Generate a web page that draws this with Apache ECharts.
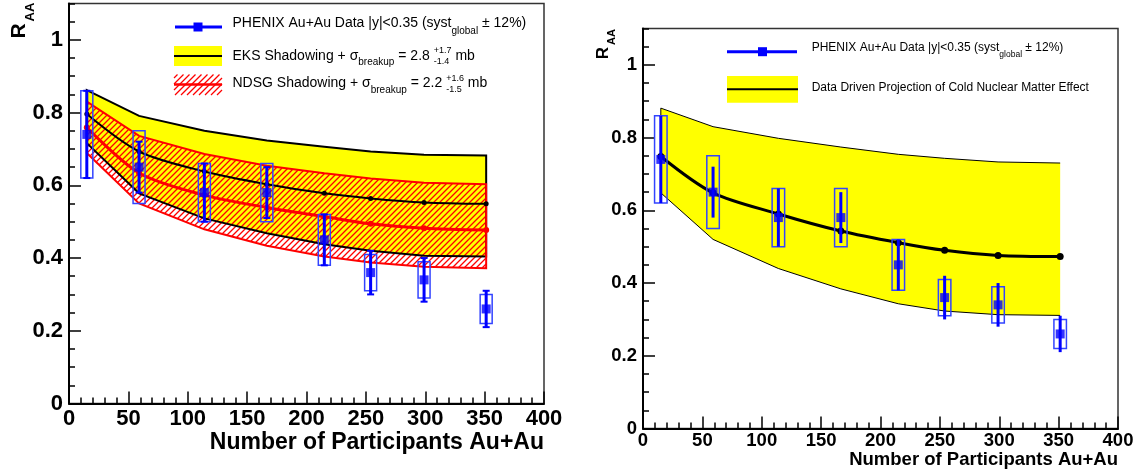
<!DOCTYPE html>
<html><head><meta charset="utf-8">
<script src="https://cdn.jsdelivr.net/npm/echarts@6/dist/echarts.min.js"></script>
<style>html,body{margin:0;padding:0;background:#fff}#c{width:1134px;height:474px}</style>
</head><body><div id="c"></div>
<script>
// ---------- data ----------
const npart   = [15, 59, 114, 166.6, 215, 254, 299, 351.3];
const raa     = [0.74, 0.65, 0.58, 0.58, 0.45, 0.36, 0.34, 0.26];
const statErr = [0.12, 0.07, 0.08, 0.07, 0.07, 0.06, 0.06, 0.05];
const systErr = [0.12, 0.10, 0.08, 0.08, 0.07, 0.05, 0.05, 0.04];
// left panel: EKS and NDSG shadowing bands
const eksUp   = [0.862, 0.791, 0.750, 0.723, 0.706, 0.693, 0.684, 0.682];
const eksMid  = [0.796, 0.693, 0.638, 0.603, 0.578, 0.564, 0.553, 0.549];
const eksLow  = [0.716, 0.578, 0.509, 0.468, 0.438, 0.420, 0.406, 0.404];
const ndsgUp  = [0.830, 0.736, 0.686, 0.654, 0.633, 0.619, 0.607, 0.603];
const ndsgMid = [0.759, 0.634, 0.573, 0.539, 0.514, 0.494, 0.482, 0.477];
const ndsgLow = [0.689, 0.550, 0.479, 0.434, 0.404, 0.388, 0.376, 0.372];
// right panel: data driven projection band
const cnmUp   = [0.881, 0.830, 0.798, 0.774, 0.754, 0.743, 0.733, 0.730];
const cnmMid  = [0.748, 0.648, 0.590, 0.543, 0.511, 0.490, 0.476, 0.473];
const cnmLow  = [0.648, 0.520, 0.440, 0.384, 0.343, 0.323, 0.313, 0.311];
// texts
const xTitle = 'Number of Participants Au+Au';
const legPhenix = ['PHENIX Au+Au Data |y|<0.35 (syst', 'global', ' \u00b1 12%)'];
const legEKS  = ['EKS Shadowing + \u03c3', 'breakup', ' = 2.8 ', '+1.7', '-1.4', ' mb'];
const legNDSG = ['NDSG Shadowing + \u03c3', 'breakup', ' = 2.2 ', '+1.6', '-1.5', ' mb'];
const legCNM  = 'Data Driven Projection of Cold Nuclear Matter Effect';

// ---------- helpers ----------
const FONT = '"Liberation Sans", Arial, Helvetica, sans-serif';
const BLUE = '#0000ff', RED = '#ff0000', YEL = '#ffff00';
const HATCH_STEP = 6;
const mctx = document.createElement('canvas').getContext('2d');
function meas(t, fs, bold) { mctx.font = (bold ? 'bold ' : '') + fs + 'px ' + FONT; return mctx.measureText(t).width; }
function txt(t, x, y, fs, extra) {
  return Object.assign({type: 'text', x: x, y: y, silent: true, z: 100,
    style: {text: t, fontSize: fs, fontFamily: FONT, fill: '#000', align: 'left', verticalAlign: 'middle'}}, extra || {});
}
function richLine(parts, x0, yc) {
  const els = []; let x = x0;
  for (const p of parts) {
    if (p.sup !== undefined) {
      els.push(txt(p.sup, x, yc + p.dyU, p.fs));
      els.push(txt(p.sub, x, yc + p.dyD, p.fs));
      x += Math.max(meas(p.sup, p.fs), meas(p.sub, p.fs));
    } else {
      els.push(txt(p.t, x, yc + (p.dy || 0), p.fs));
      x += meas(p.t, p.fs);
    }
  }
  return els;
}
// piecewise-linear interpolation in pixel space
function interp(pts, x) {
  if (x <= pts[0][0]) return pts[0][1];
  for (let i = 1; i < pts.length; i++) {
    if (x <= pts[i][0]) {
      const a = pts[i - 1], b = pts[i];
      return a[1] + (b[1] - a[1]) * (x - a[0]) / (b[0] - a[0]);
    }
  }
  return pts[pts.length - 1][1];
}
// "/" hatch segments inside region x0..x1 between topFn(x) and botFn(x) (pixel coords)
function hatchSegs(x0, x1, topFn, botFn) {
  const segs = [];
  const d = 0.25;
  const cMin = Math.floor((x0 + topFn(x0) - 10) / HATCH_STEP) * HATCH_STEP;
  const cMax = x1 + botFn(x1) + 400;
  for (let c = cMin; c <= cMax; c += HATCH_STEP) {
    let start = null, last = null;
    for (let x = x0; x <= x1 + 1e-9; x += d) {
      const y = c - x;
      const inside = y >= topFn(x) && y <= botFn(x);
      if (inside) { if (!start) start = [x, y]; last = [x, y]; }
      else if (start) { segs.push([start[0], start[1], last[0], last[1]]); start = null; }
    }
    if (start) segs.push([start[0], start[1], last[0], last[1]]);
  }
  return segs;
}
function segLines(segs, z) {
  return segs.map(s => ({type: 'line', z: z, silent: true, shape: {x1: s[0], y1: s[1], x2: s[2], y2: s[3]},
    style: {stroke: RED, lineWidth: 1.25}}));
}

function poly(gi, up, low, style, z) {
  return {type: 'custom', coordinateSystem: 'cartesian2d', xAxisIndex: gi, yAxisIndex: gi * 2, silent: true, z: z,
    data: [[npart[0], up[0]]],
    renderItem: function (p, api) {
      const pts = npart.map((x, i) => api.coord([x, up[i]]))
        .concat(npart.map((x, i) => api.coord([x, low[i]])).reverse());
      return {type: 'polygon', shape: {points: pts}, style: style};
    }};
}
function hatchBand(gi, up, low, z) {
  return {type: 'custom', coordinateSystem: 'cartesian2d', xAxisIndex: gi, yAxisIndex: gi * 2, silent: true, z: z,
    data: [[npart[0], up[0]]],
    renderItem: function (p, api) {
      const U = npart.map((x, i) => api.coord([x, up[i]]));
      const L = npart.map((x, i) => api.coord([x, low[i]]));
      const segs = hatchSegs(U[0][0], U[U.length - 1][0], x => interp(U, x), x => interp(L, x));
      return {type: 'group', children: segLines(segs, z)};
    }};
}
function pline(gi, xs, ys, style, z) {
  return {type: 'custom', coordinateSystem: 'cartesian2d', xAxisIndex: gi, yAxisIndex: gi * 2, silent: true, z: z,
    data: [[xs[0], ys[0]]],
    renderItem: function (p, api) {
      return {type: 'polyline', shape: {points: xs.map((x, i) => api.coord([x, ys[i]]))}, style: style};
    }};
}
function midLine(gi, ys, color, width, sym, z) {
  return {type: 'line', xAxisIndex: gi, yAxisIndex: gi * 2, data: npart.map((x, i) => [x, ys[i]]),
    smooth: 0.3, symbol: 'circle', symbolSize: sym, showSymbol: true, silent: true, z: z,
    lineStyle: {color: color, width: width}, itemStyle: {color: color}, emphasis: {disabled: true}};
}
function boxes(gi, w, z) {
  return {type: 'custom', coordinateSystem: 'cartesian2d', xAxisIndex: gi, yAxisIndex: gi * 2, silent: true, z: z,
    data: npart.map((x, i) => [x, raa[i], systErr[i]]),
    renderItem: function (p, api) {
      const x = api.value(0), y = api.value(1), e = api.value(2);
      const t = api.coord([x, y + e]), b = api.coord([x, y - e]);
      return {type: 'rect', shape: {x: t[0] - w / 2, y: t[1], width: w, height: b[1] - t[1]},
        style: {fill: null, stroke: '#3344ff', lineWidth: 1.5}};
    }};
}
function errs(gi, caps, z) {
  return {type: 'custom', coordinateSystem: 'cartesian2d', xAxisIndex: gi, yAxisIndex: gi * 2, silent: true, z: z,
    data: npart.map((x, i) => [x, raa[i], statErr[i]]),
    renderItem: function (p, api) {
      const x = api.value(0), y = api.value(1), e = api.value(2);
      const t = api.coord([x, y + e]), b = api.coord([x, y - e]);
      const ch = [{type: 'line', shape: {x1: t[0], y1: t[1], x2: b[0], y2: b[1]}, style: {stroke: BLUE, lineWidth: 3}}];
      if (caps) {
        ch.push({type: 'line', shape: {x1: t[0] - 3.5, y1: t[1], x2: t[0] + 3.5, y2: t[1]}, style: {stroke: BLUE, lineWidth: 2}});
        ch.push({type: 'line', shape: {x1: b[0] - 3.5, y1: b[1], x2: b[0] + 3.5, y2: b[1]}, style: {stroke: BLUE, lineWidth: 2}});
      }
      return {type: 'group', children: ch};
    }};
}
function markers(gi, z) {
  return {type: 'scatter', xAxisIndex: gi, yAxisIndex: gi * 2, data: npart.map((x, i) => [x, raa[i]]),
    symbol: 'rect', symbolSize: 9, itemStyle: {color: BLUE}, silent: true, z: z};
}
function xAx(gi, fs, margin, nameFs, namePad) {
  return {type: 'value', gridIndex: gi, min: 0, max: 400, interval: 50,
    axisLine: {show: true, onZero: false, lineStyle: {color: '#000', width: 2}},
    axisTick: {show: true, inside: true, length: 12, lineStyle: {color: '#000', width: 1.5}},
    minorTick: {show: true, splitNumber: 5, length: 6, lineStyle: {color: '#000', width: 1.5}},
    splitLine: {show: false}, minorSplitLine: {show: false},
    axisLabel: {fontSize: fs, fontWeight: 'bold', fontFamily: FONT, color: '#000', margin: margin},
    name: xTitle, nameLocation: 'end', nameGap: 0,
    nameTextStyle: {fontSize: nameFs, fontWeight: 'bold', fontFamily: FONT, color: '#000',
      align: 'right', verticalAlign: 'top', padding: [namePad, 0, 0, 0]}};
}
function yMaj(gi, fs, margin) {
  return {type: 'value', gridIndex: gi, min: 0, max: 1.1, interval: 0.2, position: 'left',
    axisLine: {show: true, onZero: false, lineStyle: {color: '#000', width: 2}},
    axisTick: {show: true, inside: true, length: 12, lineStyle: {color: '#000', width: 1.5}},
    splitLine: {show: false},
    axisLabel: {fontSize: fs, fontWeight: 'bold', fontFamily: FONT, color: '#000', margin: margin,
      showMaxLabel: false,
      formatter: v => (v > 1.05 ? '' : String(+(+v).toFixed(1)))}};
}
function yMin(gi) {
  return {type: 'value', gridIndex: gi, min: 0, max: 1.1, interval: 0.05, position: 'left', offset: 0,
    axisLine: {show: false}, axisLabel: {show: false}, splitLine: {show: false},
    axisTick: {show: true, inside: true, length: 6, lineStyle: {color: '#000', width: 1.5}}};
}
function rotTxt(t, x, y, fs) {
  return {type: 'text', x: x, y: y, rotation: Math.PI / 2, silent: true, z: 100,
    style: {text: t, fontSize: fs, fontWeight: 'bold', fontFamily: FONT, fill: '#000', align: 'center', verticalAlign: 'middle'}};
}

// ---------- graphics (legends, y titles) ----------
const g = [];
g.push(rotTxt('R', 19, 31, 21));
g.push(rotTxt('AA', 30, 12, 13));
g.push(rotTxt('R', 603, 53, 17));
g.push(rotTxt('AA', 612, 37, 11));
// left legend
g.push({type: 'line', z: 100, shape: {x1: 175, y1: 27, x2: 222, y2: 27}, style: {stroke: BLUE, lineWidth: 3}});
g.push({type: 'rect', z: 101, shape: {x: 193.5, y: 22.5, width: 9, height: 9}, style: {fill: BLUE}});
g.push({type: 'rect', z: 100, shape: {x: 174, y: 46, width: 48, height: 20}, style: {fill: YEL}});
g.push({type: 'line', z: 101, shape: {x1: 174, y1: 56, x2: 222, y2: 56}, style: {stroke: '#000', lineWidth: 2}});
segLines(hatchSegs(174, 222, () => 74.5, () => 95), 100).forEach(e => g.push(e));
g.push({type: 'line', z: 101, shape: {x1: 174, y1: 84.5, x2: 222, y2: 84.5}, style: {stroke: RED, lineWidth: 2.5}});
richLine([{t: legPhenix[0], fs: 14}, {t: legPhenix[1], fs: 10, dy: 8}, {t: legPhenix[2], fs: 14}], 232.5, 23.5).forEach(e => g.push(e));
richLine([{t: legEKS[0], fs: 14}, {t: legEKS[1], fs: 10, dy: 7}, {t: legEKS[2], fs: 14},
  {sup: legEKS[3], sub: legEKS[4], fs: 9, dyU: -5, dyD: 6}, {t: legEKS[5], fs: 14}], 232.5, 55.7).forEach(e => g.push(e));
richLine([{t: legNDSG[0], fs: 14}, {t: legNDSG[1], fs: 10, dy: 7}, {t: legNDSG[2], fs: 14},
  {sup: legNDSG[3], sub: legNDSG[4], fs: 9, dyU: -5, dyD: 6}, {t: legNDSG[5], fs: 14}], 232.5, 83.3).forEach(e => g.push(e));
// right legend
g.push({type: 'line', z: 100, shape: {x1: 727, y1: 51.7, x2: 797, y2: 51.7}, style: {stroke: BLUE, lineWidth: 3}});
g.push({type: 'rect', z: 101, shape: {x: 758, y: 47.2, width: 9, height: 9}, style: {fill: BLUE}});
g.push({type: 'rect', z: 100, shape: {x: 727, y: 76, width: 71, height: 26.7}, style: {fill: YEL}});
g.push({type: 'line', z: 101, shape: {x1: 727, y1: 89.3, x2: 798, y2: 89.3}, style: {stroke: '#000', lineWidth: 2}});
richLine([{t: legPhenix[0], fs: 12}, {t: legPhenix[1], fs: 8.5, dy: 7}, {t: legPhenix[2], fs: 12}], 811.7, 47.3).forEach(e => g.push(e));
richLine([{t: legCNM, fs: 12}], 811.7, 88).forEach(e => g.push(e));

// ---------- option ----------
const option = {
  animation: false,
  backgroundColor: '#fff',
  grid: [
    {left: 69, top: 3.5, width: 475, height: 400, show: true, borderColor: '#333', borderWidth: 1.5, backgroundColor: 'transparent', containLabel: false, outerBoundsMode: 'none'},
    {left: 643, top: 28.5, width: 475, height: 400, show: true, borderColor: '#333', borderWidth: 1.5, backgroundColor: 'transparent', containLabel: false, outerBoundsMode: 'none'}
  ],
  xAxis: [xAx(0, 22, 4, 23, 28), xAx(1, 18.5, 3, 18.5, 22)],
  yAxis: [yMaj(0, 22, 6), yMin(0), yMaj(1, 18.5, 6), yMin(1)],
  graphic: {elements: g},
  series: [
    // left panel
    poly(0, eksUp, eksLow, {fill: YEL}, 1),
    hatchBand(0, ndsgUp, ndsgLow, 2),
    poly(0, eksUp, eksLow, {fill: null, stroke: '#000', lineWidth: 2}, 3),
    poly(0, ndsgUp, ndsgLow, {fill: null, stroke: RED, lineWidth: 2}, 3),
    midLine(0, eksMid, '#000', 2, 5, 4),
    midLine(0, ndsgMid, RED, 3, 6, 4),
    boxes(0, 12, 5),
    errs(0, true, 6),
    markers(0, 7),
    // right panel
    poly(1, cnmUp, cnmLow, {fill: YEL}, 1),
    pline(1, [npart[0]].concat(npart), [cnmLow[0]].concat(cnmUp), {fill: null, stroke: '#000', lineWidth: 1}, 3),
    pline(1, npart, cnmLow, {fill: null, stroke: '#000', lineWidth: 1}, 3),
    midLine(1, cnmMid, '#000', 3, 7, 4),
    boxes(1, 12.5, 5),
    errs(1, false, 6),
    markers(1, 7)
  ]
};
const chart = echarts.init(document.getElementById('c'), null, {renderer: 'canvas'});
chart.setOption(option);
</script></body></html>
